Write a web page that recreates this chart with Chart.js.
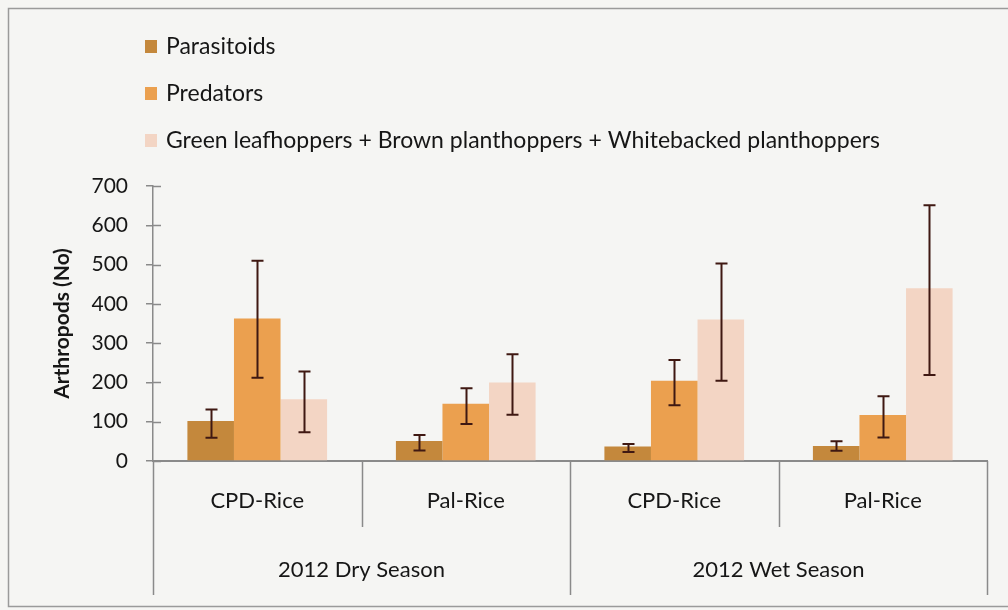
<!DOCTYPE html>
<html>
<head>
<meta charset="utf-8">
<script src="https://cdn.jsdelivr.net/npm/chart.js@4.4.1/dist/chart.umd.min.js"></script>
<style>
  html, body { margin: 0; padding: 0; background: #f5f5f3; }
  #wrap { position: relative; width: 1008px; height: 610px; }
  canvas { display: block; }
</style>
</head>
<body>
<div id="wrap"><canvas id="chart" width="1008" height="610"></canvas></div>
<script>
// Sites sampled in each season (inner axis level) and the seasons (outer level)
const sites = ['CPD-Rice', 'Pal-Rice', 'CPD-Rice', 'Pal-Rice'];
const seasons = ['2012 Dry Season', '2012 Wet Season'];
const seriesNames = ['Parasitoids', 'Predators', 'Green leafhoppers + Brown planthoppers + Whitebacked planthoppers'];

// Mean counts and error-bar limits for each group
const parasitoids      = [102, 51, 37, 38];
const parasitoidsLow   = [59, 27, 23, 26];
const parasitoidsHigh  = [131, 66, 43, 50];

const predators        = [363, 146, 204, 117];
const predatorsLow     = [212, 94, 142, 60];
const predatorsHigh    = [510, 185, 257, 165];

const hoppers          = [157, 200, 360, 440];
const hoppersLow       = [73, 118, 204, 219];
const hoppersHigh      = [228, 272, 503, 651];

const yTicks = [0, 100, 200, 300, 400, 500, 600, 700];

const seriesColors = ['#c4883c', '#eba04f', '#f3d5c4'];
const errLow  = [parasitoidsLow, predatorsLow, hoppersLow];
const errHigh = [parasitoidsHigh, predatorsHigh, hoppersHigh];

const FONT = 'Lato, "Open Sans", sans-serif';
const AXIS_COLOR = '#8a8a8a';
const TEXT_COLOR = '#161616';

Chart.defaults.font.family = FONT;
Chart.defaults.color = TEXT_COLOR;

// Whiskers with caps for each bar
const errorBars = {
  id: 'errorBars',
  afterDatasetsDraw(chart) {
    const ctx = chart.ctx;
    const y = chart.scales.y;
    ctx.save();
    ctx.strokeStyle = '#3f1812';
    ctx.lineWidth = 2;
    chart.data.datasets.forEach((ds, i) => {
      const meta = chart.getDatasetMeta(i);
      meta.data.forEach((bar, j) => {
        const x = Math.round(bar.x) + 0.5;
        const yl = y.getPixelForValue(errLow[i][j]);
        const yh = y.getPixelForValue(errHigh[i][j]);
        ctx.beginPath();
        ctx.moveTo(x, yl); ctx.lineTo(x, yh);
        ctx.moveTo(x - 6, yl); ctx.lineTo(x + 6, yl);
        ctx.moveTo(x - 6, yh); ctx.lineTo(x + 6, yh);
        ctx.stroke();
      });
    });
    ctx.restore();
  }
};

// Two-level category axis, inner tick marks, legend and outer frame
const decorations = {
  id: 'decorations',
  afterDraw(chart) {
    const ctx = chart.ctx;
    const xs = chart.scales.x;
    const ys = chart.scales.y;
    const area = chart.chartArea;
    ctx.save();

    // tick marks crossing into the plot on the value axis
    ctx.strokeStyle = AXIS_COLOR;
    ctx.lineWidth = 1.5;
    yTicks.forEach(v => {
      const py = Math.round(ys.getPixelForValue(v)) + 0.5;
      ctx.beginPath();
      ctx.moveTo(area.left, py);
      ctx.lineTo(area.left + 8, py);
      ctx.stroke();
    });

    // category dividers: long ones bound seasons, short ones split sites
    const half = (xs.getPixelForValue(1) - xs.getPixelForValue(0)) / 2;
    const perSeason = sites.length / seasons.length;
    ctx.lineWidth = 1.5;
    for (let i = 0; i <= sites.length; i++) {
      const px = Math.round(xs.getPixelForValue(i) - half) + 0.5;
      const long = i % perSeason === 0;
      ctx.beginPath();
      ctx.moveTo(px, area.bottom);
      ctx.lineTo(px, long ? 595 : 527);
      ctx.stroke();
    }

    // season labels
    ctx.fillStyle = TEXT_COLOR;
    ctx.font = '22px ' + FONT;
    ctx.textAlign = 'center';
    ctx.textBaseline = 'middle';
    seasons.forEach((s, k) => {
      const a = xs.getPixelForValue(k * perSeason) - half;
      const b = xs.getPixelForValue((k + 1) * perSeason - 1) + half;
      ctx.fillText(s, (a + b) / 2, 570);
    });

    // legend
    ctx.textAlign = 'left';
    ctx.font = '23px ' + FONT;
    chart.data.datasets.forEach((ds, i) => {
      const cy = 46 + i * 47;
      ctx.fillStyle = ds.backgroundColor;
      ctx.fillRect(145, cy - 6, 12, 13);
      ctx.fillStyle = TEXT_COLOR;
      ctx.fillText(ds.label, 166, cy + 1);
    });

    // frame
    ctx.strokeStyle = '#9a9a9a';
    ctx.lineWidth = 1.5;
    ctx.strokeRect(8.5, 8.5, 1010, 598);
    ctx.restore();
  }
};

const values = [parasitoids, predators, hoppers];

new Chart(document.getElementById('chart'), {
  type: 'bar',
  data: {
    labels: sites,
    datasets: seriesNames.map((name, i) => ({
      label: name,
      data: values[i],
      backgroundColor: seriesColors[i],
      borderWidth: 0,
      barPercentage: 1.0,
      categoryPercentage: 0.67
    }))
  },
  options: {
    responsive: false,
    animation: false,
    layout: { padding: { top: 186, left: 0, right: 21, bottom: 0 } },
    plugins: { legend: { display: false }, tooltip: { enabled: false } },
    scales: {
      x: {
        grid: { display: false, drawTicks: false },
        border: { display: true, color: AXIS_COLOR, width: 2 },
        ticks: { padding: 27, font: { size: 22 }, color: TEXT_COLOR },
        afterFit(scale) { scale.height = 149; }
      },
      y: {
        min: 0,
        max: 700,
        afterBuildTicks(scale) { scale.ticks = yTicks.map(v => ({ value: v })); },
        grid: { display: true, drawOnChartArea: false, drawTicks: true, tickLength: 7, color: AXIS_COLOR, lineWidth: 1.5 },
        border: { display: true, color: AXIS_COLOR, width: 1.5 },
        ticks: { padding: 18, font: { size: 21 }, color: TEXT_COLOR },
        title: {
          display: true,
          text: 'Arthropods (No)',
          font: { size: 21, weight: 'bold' },
          color: TEXT_COLOR,
          padding: { top: 50, bottom: 0 }
        },
        afterFit(scale) { scale.width = 153; }
      }
    }
  },
  plugins: [errorBars, decorations]
});
</script>
</body>
</html>
